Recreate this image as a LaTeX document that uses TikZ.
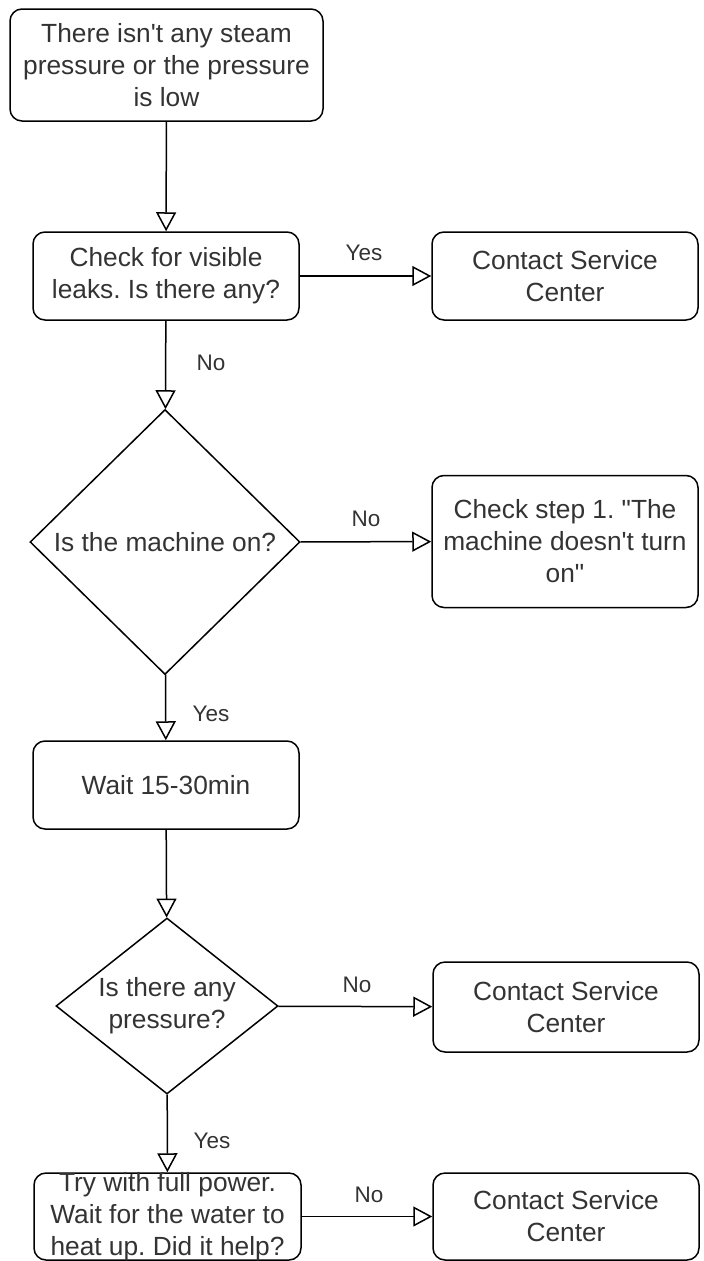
\documentclass[tikz,border=0pt]{standalone}
\usepackage{fontspec}
\setmainfont{Liberation Sans}
\usetikzlibrary{arrows.meta,shapes.geometric}
\frenchspacing
\begin{document}
\begin{tikzpicture}[x=1pt,y=-1pt,
  box/.style={draw, line width=1.5pt, rounded corners=12pt, minimum width=266pt, minimum height=88pt,
    inner sep=0pt, align=center, font=\fontsize{26.3}{32}\selectfont, text=black!80},
  txt/.style={inner sep=0pt, align=center, font=\fontsize{26.3}{32}\selectfont, text=black!80},
  dia/.style={draw, line width=1.5pt, diamond, inner sep=0pt},
  lbl/.style={inner sep=0pt, font=\fontsize{22.5}{27}\selectfont, text=black!80},
  arr/.style={line width=1.5pt, -{Triangle[open,length=19pt,width=20pt,line width=1.5pt]}}
]
\useasboundingbox (0,0) rectangle (704,1261);
% left column
\node[box, minimum width=313pt, minimum height=112pt] (start) at (166.5,65)
  {There isn\textquotesingle t any steam\\pressure or the pressure\\is low};
\node[box] (leak) at (166,276) {Check for visible\\leaks. Is there any?};
\node[dia, minimum width=270pt, minimum height=265pt] (d1) at (165,542) {};
\node[txt] (d1t) at (d1.center) {Is the machine on?};
\node[box] (wait) at (166,785) {Wait 15-30min};
\node[dia, minimum width=222pt, minimum height=176pt] (d2) at (167,1006) {};
\node[txt] (d2t) at (d2.center) {Is there any\\pressure?};
\node[draw, line width=1.5pt, rounded corners=12pt, minimum width=267pt, minimum height=87pt, inner sep=0pt] (full) at (167.5,1216.5) {};
\node[txt] (fullt) at (full.center) {Try with full power.\\Wait for the water to\\heat up. Did it help?};
% right column
\node[box] (c1) at (565,276) {Contact Service\\Center};
\node[box, minimum height=132pt] (step) at (565,541.5) {Check step 1. \textquotedbl The\\machine doesn\textquotesingle t turn\\on\textquotedbl};
\node[box, minimum height=90pt] (c2) at (566,1007) {Contact Service\\Center};
\node[box, minimum height=87pt] (c3) at (566,1216.5) {Contact Service\\Center};
% connectors
\draw[arr] (start) -- (leak);
\draw[arr] (leak) -- (c1);
\draw[arr] (leak) -- (d1);
\draw[arr] (d1) -- (step);
\draw[arr] (d1) -- (wait);
\draw[arr] (wait) -- (d2);
\draw[arr] (d2) -- (c2);
\draw[arr] (d2) -- (full);
\draw[arr] (full) -- (c3);
% labels
\node[lbl] (l1) at (364,253) {Yes};
\node[lbl] (l2) at (211,363) {No};
\node[lbl] (l3) at (366,519) {No};
\node[lbl] (l4) at (211,714) {Yes};
\node[lbl] (l5) at (357,985) {No};
\node[lbl] (l6) at (212,1141) {Yes};
\node[lbl] (l7) at (369,1195) {No};
\end{tikzpicture}
\end{document}
